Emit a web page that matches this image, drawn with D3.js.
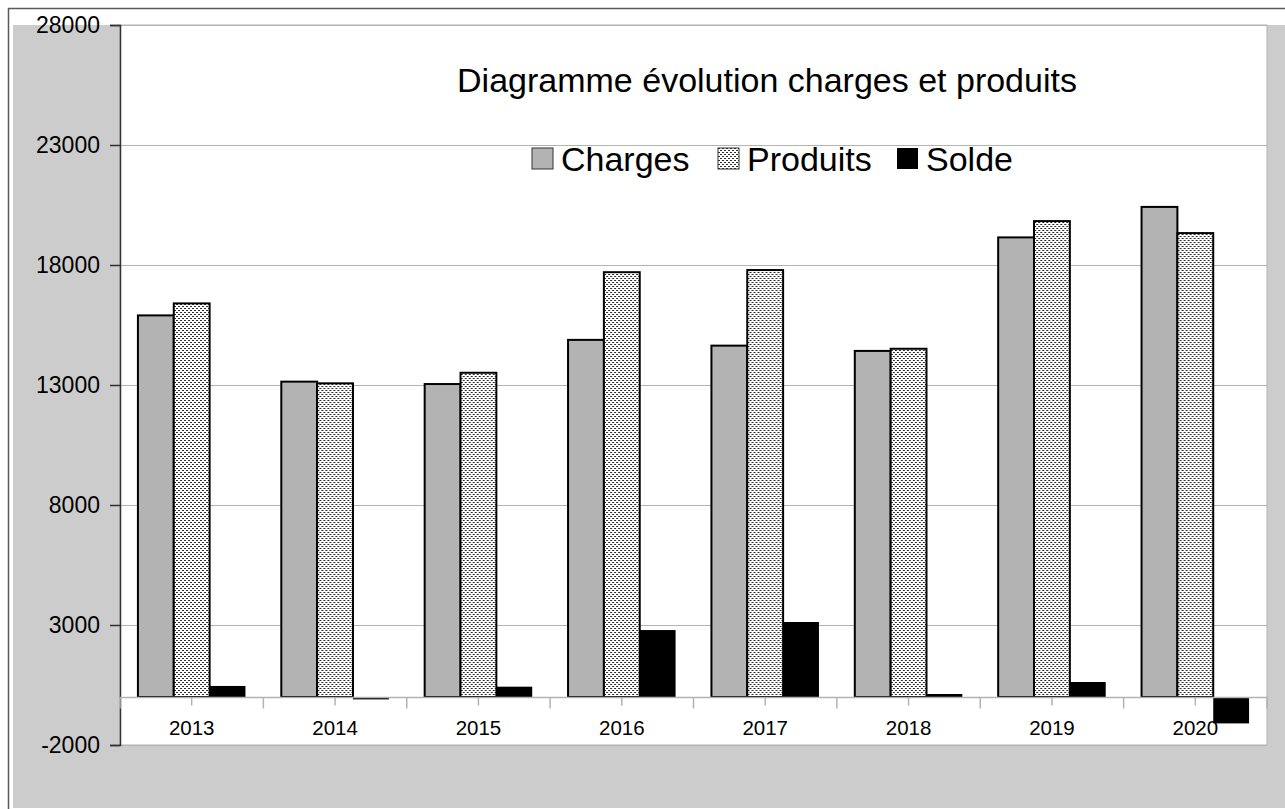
<!DOCTYPE html>
<html>
<head>
<meta charset="utf-8">
<script src="https://cdn.jsdelivr.net/npm/d3@7"></script>
<style>
  body { margin: 0; background: #fff; }
  text { font-family: "Liberation Sans", Arial, sans-serif; fill: #000; }
</style>
</head>
<body>
<div id="chart"></div>
<script>
// values
var years = ["2013", "2014", "2015", "2016", "2017", "2018", "2019", "2020"];
var charges = [15900, 13140, 13040, 14880, 14640, 14420, 19150, 20420];
var produits = [16400, 13070, 13510, 17700, 17790, 14510, 19830, 19330];
var solde = [460, -100, 430, 2790, 3125, 125, 625, -1100];
var seriesNames = ["Charges", "Produits", "Solde"];
var yTicks = [-2000, 3000, 8000, 13000, 18000, 23000, 28000];

var W = 1285, H = 809;
var plot = {left: 120, right: 1267, top: 25, bottom: 745};

var svg = d3.select("#chart").append("svg")
  .attr("width", W)
  .attr("height", H);

// pattern used by "Produits"
var defs = svg.append("defs");
var pat = defs.append("pattern")
  .attr("id", "dots")
  .attr("patternUnits", "userSpaceOnUse")
  .attr("width", 4)
  .attr("height", 4);
pat.append("rect").attr("width", 4).attr("height", 4).attr("fill", "#fff");
pat.append("rect").attr("x", 0).attr("y", 0).attr("width", 2).attr("height", 1).attr("fill", "#2a2a2a");
pat.append("rect").attr("x", 2).attr("y", 2).attr("width", 2).attr("height", 1).attr("fill", "#2a2a2a");

var fills = {Charges: "#b3b3b3", Produits: "url(#dots)", Solde: "#000"};

// outer frame + grey wall
svg.append("rect")
  .attr("x", 8.5).attr("y", 8.5)
  .attr("width", 1300).attr("height", 820)
  .attr("fill", "#fff")
  .attr("stroke", "#5a5a5a")
  .attr("stroke-width", 1.5);
svg.append("rect")
  .attr("x", 13).attr("y", 25)
  .attr("width", W - 13).attr("height", 808 - 25)
  .attr("fill", "#cccccc");
svg.append("rect")
  .attr("x", plot.left).attr("y", plot.top)
  .attr("width", plot.right - plot.left).attr("height", plot.bottom - plot.top)
  .attr("fill", "#fff")
  .attr("stroke", "#b3b3b3")
  .attr("stroke-width", 1);

var y = d3.scaleLinear().domain([-2000, 28000]).range([plot.bottom, plot.top]);
var x0 = d3.scaleBand().domain(years).range([plot.left, plot.right]);
var x1 = d3.scaleBand().domain(seriesNames).range([0, x0.bandwidth()]).paddingOuter(0.5);

// gridlines
svg.append("g").selectAll("line")
  .data(yTicks)
  .enter().append("line")
  .attr("x1", plot.left).attr("x2", plot.right)
  .attr("y1", function(d){ return Math.round(y(d)) + 0.5; })
  .attr("y2", function(d){ return Math.round(y(d)) + 0.5; })
  .attr("stroke", "#b3b3b3");

// y axis (plain hyphen for negatives, like the original)
var yAxis = svg.append("g")
  .attr("transform", "translate(" + plot.left + ",0)")
  .call(d3.axisLeft(y).tickValues(yTicks).tickSize(10).tickPadding(10)
    .tickFormat(function(d){ return String(d); }));
yAxis.select(".domain").attr("stroke", "#333").attr("stroke-width", 1.5);
yAxis.selectAll(".tick line").attr("stroke", "#333").attr("stroke-width", 1.5);
yAxis.selectAll(".tick text")
  .attr("font-size", 23)
  .attr("font-family", "Liberation Sans, Arial, sans-serif")
  .attr("fill", "#000");

// bars
var rows = years.map(function(yr, i) {
  return {year: yr, vals: [
    {key: "Charges", v: charges[i]},
    {key: "Produits", v: produits[i]},
    {key: "Solde", v: solde[i]}
  ]};
});

var groups = svg.append("g").selectAll("g")
  .data(rows)
  .enter().append("g")
  .attr("transform", function(d){ return "translate(" + x0(d.year) + ",0)"; });

groups.selectAll("rect")
  .data(function(d){ return d.vals; })
  .enter().append("rect")
  .attr("x", function(d){ return x1(d.key); })
  .attr("width", x1.bandwidth())
  .attr("y", function(d){ return y(Math.max(0, d.v)); })
  .attr("height", function(d){ return Math.abs(y(d.v) - y(0)); })
  .attr("fill", function(d){ return fills[d.key]; })
  .attr("stroke", function(d){ return d.key == "Solde" ? "none" : "#000"; })
  .attr("stroke-width", 2);

// category axis at zero
var xAxis = svg.append("g")
  .attr("transform", "translate(0," + (y(0) + 0.5) + ")");
xAxis.append("line")
  .attr("x1", plot.left).attr("x2", plot.right)
  .attr("stroke", "#b3b3b3").attr("stroke-width", 1.5);
xAxis.selectAll("line.major")
  .data(years.concat(["end"]))
  .enter().append("line")
  .attr("class", "major")
  .attr("x1", function(d){ return d == "end" ? plot.right : x0(d); })
  .attr("x2", function(d){ return d == "end" ? plot.right : x0(d); })
  .attr("y1", 0).attr("y2", 11)
  .attr("stroke", "#b3b3b3").attr("stroke-width", 1.5);
xAxis.selectAll("line.minor")
  .data(years)
  .enter().append("line")
  .attr("class", "minor")
  .attr("x1", function(d){ return x0(d) + x0.bandwidth() / 2; })
  .attr("x2", function(d){ return x0(d) + x0.bandwidth() / 2; })
  .attr("y1", 0).attr("y2", 8)
  .attr("stroke", "#b3b3b3").attr("stroke-width", 1.5);

svg.append("g").selectAll("text")
  .data(years)
  .enter().append("text")
  .attr("x", function(d){ return x0(d) + x0.bandwidth() / 2; })
  .attr("y", 735)
  .attr("text-anchor", "middle")
  .attr("font-size", 20.5)
  .text(function(d){ return d; });

// title
svg.append("text")
  .attr("x", 767)
  .attr("y", 92)
  .attr("text-anchor", "middle")
  .attr("font-size", 34)
  .text("Diagramme évolution charges et produits");

// legend
var legendX = [532, 718, 897];
var legend = svg.append("g").selectAll("g")
  .data(seriesNames)
  .enter().append("g")
  .attr("transform", function(d, i){ return "translate(" + legendX[i] + ",148)"; });
legend.append("rect")
  .attr("width", 21).attr("height", 21)
  .attr("fill", function(d){ return fills[d]; })
  .attr("stroke", function(d){ return d == "Solde" ? "none" : "#333"; })
  .attr("stroke-width", 1);
legend.append("text")
  .attr("x", 29)
  .attr("y", 23)
  .attr("font-size", 34)
  .text(function(d){ return d; });
</script>
</body>
</html>
